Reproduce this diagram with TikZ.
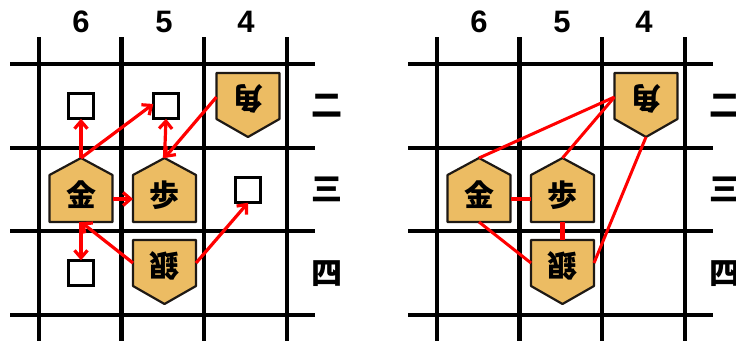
\documentclass[tikz,border=0pt]{standalone}
\usepackage{fontspec}
\setmainfont{Liberation Sans}
\newfontfamily\cjk{Noto Sans CJK JP}
\usetikzlibrary{arrows.meta}
\definecolor{pieceC}{RGB}{236,188,99}
\definecolor{redC}{RGB}{255,0,0}
\tikzset{
  gridline/.style={line width=4.5pt, black},
  pc/.style={minimum width=63pt, minimum height=64pt, inner sep=0pt, outer sep=0pt},
  piece/.style={draw={rgb,255:red,30;green,25;blue,20}, line width=2.2pt, fill=pieceC, line join=round},
  kanji/.style={inner sep=0pt, font=\cjk\bfseries\fontsize{30}{30}\selectfont},
  sq/.style={draw=black, line width=3pt, fill=white, minimum size=25.5pt, inner sep=0pt, outer sep=0pt},
  collabel/.style={font=\bfseries\fontsize{31}{31}\selectfont},
  rowlabel/.style={font=\cjk\bfseries\fontsize{31}{31}\selectfont},
  arr/.style={redC, line width=3.2pt, -{Straight Barb[length=7.5pt,width=13pt]}},
  link/.style={redC, line width=3pt},
  thicklink/.style={redC, line width=4.5pt},
}
\newcommand\upPiece[3]{%
  \node[pc] (#1) at (#2) {};
  \draw[piece] (#1.south west) -- (#1.south east) -- ([yshift=-17pt]#1.north east) -- (#1.north) -- ([yshift=-17pt]#1.north west) -- cycle;
  \node[kanji] (#1t) at ([yshift=-5pt]#1.center) {#3};
}
\newcommand\downPiece[3]{%
  \node[pc] (#1) at (#2) {};
  \draw[piece] (#1.north west) -- (#1.north east) -- ([yshift=18pt]#1.south east) -- (#1.south) -- ([yshift=18pt]#1.south west) -- cycle;
  \node[kanji, rotate=180] (#1t) at ([yshift=6pt]#1.center) {#3};
}
\newcommand\boardGrid[1]{%
  \begin{scope}[xshift=#1pt]
    \foreach \gx in {39,121.5,204,287} \draw[gridline] (\gx,37) -- (\gx,342);
    \foreach \gy in {64,148,231,315} \draw[gridline] (10,\gy) -- (315,\gy);
  \end{scope}
}
\begin{document}
\begin{tikzpicture}[x=1pt,y=-1pt]
\useasboundingbox (0,0) rectangle (736,340);
% ---------- left board ----------
\boardGrid{0}
\node[collabel] (c6) at (81,22) {6};
\node[collabel] (c5) at (164,22) {5};
\node[collabel] (c4) at (246,22) {4};
\node[rowlabel] (r2) at (327,106) {二};
\node[rowlabel] (r3) at (327,189) {三};
\node[rowlabel] (r4) at (327,274) {四};
\node[sq] (sq62) at (81,106) {};
\node[sq] (sq52) at (166,106) {};
\node[sq] (sq43) at (248,190) {};
\node[sq] (sq64) at (81,273) {};
\upPiece{kin}{81,190}{金}
\upPiece{fu}{164.5,190}{歩}
\downPiece{kaku}{248,105}{角}
\downPiece{gin}{164.5,272}{銀}
\draw[arr] (kin.north) -- (sq62.south);
\draw[arr] (kin.north) -- ([yshift=2pt]sq52.west);
\draw[arr] (fu.north) -- (sq52.south);
\draw[arr] ([yshift=8pt]kaku.west) -- (fu.north);
\draw[arr] ([yshift=-9pt]kin.east) -- ([yshift=-9pt]fu.west);
\draw[arr] (kin.south) -- (sq64.north);
\draw[arr] ([yshift=9pt]gin.west) -- (kin.south);
\draw[arr] ([yshift=9pt]gin.east) -- (sq43.south);
% ---------- right board ----------
\boardGrid{398}
\node[collabel] (rc6) at (479,22) {6};
\node[collabel] (rc5) at (562,22) {5};
\node[collabel] (rc4) at (644,22) {4};
\node[rowlabel] (rr2) at (725,106) {二};
\node[rowlabel] (rr3) at (725,189) {三};
\node[rowlabel] (rr4) at (725,274) {四};
\upPiece{rkin}{479,190}{金}
\upPiece{rfu}{562.5,190}{歩}
\downPiece{rkaku}{646,105}{角}
\downPiece{rgin}{562.5,272}{銀}
\draw[link] ([yshift=8pt]rkaku.west) -- (rkin.north);
\draw[link] ([yshift=8pt]rkaku.west) -- (rfu.north);
\draw[link] (rkaku.south) -- ([yshift=9pt]rgin.east);
\draw[link] (rkin.south) -- ([yshift=9pt]rgin.west);
\draw[thicklink] ([yshift=-9pt]rkin.east) -- ([yshift=-9pt]rfu.west);
\draw[thicklink] (rfu.south) -- (rgin.north);
\end{tikzpicture}
\end{document}
